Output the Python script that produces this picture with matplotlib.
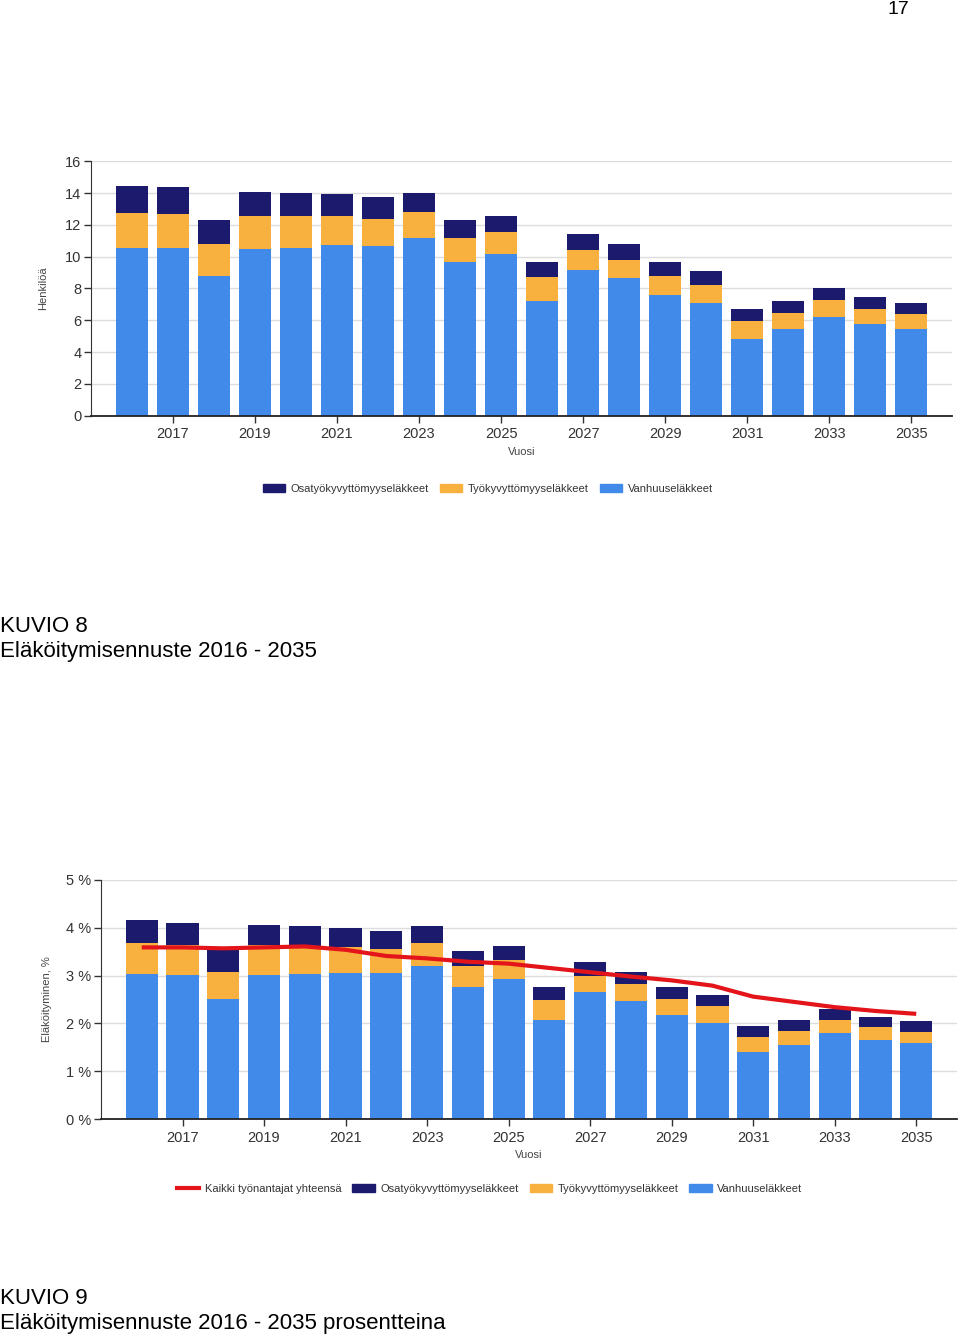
import matplotlib
matplotlib.use("Agg")
import matplotlib.pyplot as plt
from matplotlib.patches import Patch
from matplotlib.lines import Line2D

years = list(range(2016, 2036))
tick_years = list(range(2017, 2036, 2))

# Kuvio 8: henkilöä
vanhuus = [10.57, 10.57, 8.78, 10.50, 10.57, 10.71, 10.65, 11.19, 9.66, 10.17,
           7.23, 9.18, 8.64, 7.59, 7.09, 4.84, 5.47, 6.23, 5.77, 5.47]
tyokyv = [2.16, 2.11, 2.02, 2.04, 1.97, 1.83, 1.74, 1.64, 1.53, 1.38,
          1.47, 1.26, 1.17, 1.19, 1.13, 1.13, 1.01, 1.07, 0.96, 0.92]
osatyokyv = [1.69, 1.68, 1.53, 1.53, 1.44, 1.38, 1.34, 1.15, 1.14, 0.99,
             0.94, 0.99, 0.99, 0.86, 0.90, 0.76, 0.75, 0.71, 0.71, 0.70]

# Kuvio 9: prosentteina
vanhuus_p = [3.04, 3.01, 2.51, 3.01, 3.04, 3.06, 3.06, 3.21, 2.77, 2.93,
             2.08, 2.65, 2.47, 2.17, 2.01, 1.41, 1.55, 1.80, 1.66, 1.58]
tyokyv_p = [0.64, 0.63, 0.57, 0.63, 0.58, 0.53, 0.50, 0.47, 0.44, 0.40,
            0.41, 0.35, 0.36, 0.34, 0.36, 0.30, 0.30, 0.28, 0.26, 0.25]
osatyokyv_p = [0.48, 0.47, 0.47, 0.41, 0.41, 0.41, 0.37, 0.35, 0.31, 0.28,
               0.28, 0.28, 0.25, 0.26, 0.23, 0.24, 0.23, 0.22, 0.22, 0.21]
kaikki_p = [3.59, 3.59, 3.57, 3.59, 3.61, 3.54, 3.41, 3.36, 3.29, 3.25,
            3.16, 3.07, 2.98, 2.90, 2.79, 2.56, 2.45, 2.34, 2.26, 2.20]

c_navy = "#1b1a6d"
c_orange = "#f8b03f"
c_blue = "#418ae9"
c_red = "#e3151b"

plt.rcParams["font.family"] = ["Liberation Sans", "DejaVu Sans"]

fig = plt.figure(figsize=(9.6, 13.4), dpi=100)


def stacked(ax, blue, orange, navy, ymax, step, fmt):
    bot2 = [a + b for a, b in zip(blue, orange)]
    ax.bar(years, blue, width=0.79, color=c_blue, zorder=2)
    ax.bar(years, orange, width=0.79, bottom=blue, color=c_orange, zorder=2)
    ax.bar(years, navy, width=0.79, bottom=bot2, color=c_navy, zorder=2)
    ax.set_xlim(2015, 2036)
    ax.set_ylim(0, ymax)
    yt = [i * step for i in range(int(round(ymax / step)) + 1)]
    ax.set_yticks(yt)
    ax.set_yticklabels([fmt(v) for v in yt])
    ax.set_xticks(tick_years)
    ax.set_xticklabels([str(y) for y in tick_years])
    ax.grid(axis="y", color="#dcdcdc", lw=1, zorder=0)
    for s in ["top", "right"]:
        ax.spines[s].set_visible(False)
    ax.spines["left"].set_color("#333333")
    ax.spines["bottom"].set_color("#222222")
    ax.spines["bottom"].set_linewidth(1.3)
    ax.tick_params(axis="both", direction="out", length=5, width=1,
                   color="#333333", labelsize=10.5, labelcolor="#333333")
    ax.tick_params(axis="y", pad=2)
    ax.set_xlabel("Vuosi", fontsize=8, color="#444444", labelpad=4)


ax1 = fig.add_axes([0.0948, 0.6898, 0.897, 0.1899])
stacked(ax1, vanhuus, tyokyv, osatyokyv, 16, 2, lambda v: f"{v:g}")
ax1.set_ylabel("Henkilöä", fontsize=8, color="#444444", labelpad=12)

h1 = [Patch(color=c_navy), Patch(color=c_orange), Patch(color=c_blue)]
l1 = ["Osatyökyvyttömyyseläkkeet", "Työkyvyttömyyseläkkeet", "Vanhuuseläkkeet"]
fig.legend(h1, l1, loc="center", bbox_to_anchor=(0.508, 1 - 489 / 1340), ncol=3,
           frameon=False, fontsize=8, handlelength=2.0, handleheight=0.8,
           columnspacing=1.0, handletextpad=0.5, labelcolor="#333333")

ax2 = fig.add_axes([0.1052, 0.1649, 0.8917, 0.1784])
stacked(ax2, vanhuus_p, tyokyv_p, osatyokyv_p, 5, 1, lambda v: f"{v:g} %")
ax2.plot(years, kaikki_p, color=c_red, lw=3, zorder=3, solid_capstyle="butt")
ax2.set_ylabel("Eläköityminen, %", fontsize=8, color="#444444", labelpad=10)

h2 = [Line2D([0], [0], color=c_red, lw=3), Patch(color=c_navy),
      Patch(color=c_orange), Patch(color=c_blue)]
l2 = ["Kaikki työnantajat yhteensä"] + l1
fig.legend(h2, l2, loc="center", bbox_to_anchor=(0.51, 1 - 1189 / 1340), ncol=4,
           frameon=False, fontsize=8, handlelength=2.0, handleheight=0.8,
           columnspacing=1.0, handletextpad=0.5, labelcolor="#333333")

fig.text(0.924, 1 - 9 / 1340, "17", fontsize=14, va="center")
fig.text(0.0, 1 - 626 / 1340, "KUVIO 8", fontsize=16, va="center")
fig.text(0.0, 1 - 652 / 1340, "Eläköitymisennuste 2016 - 2035", fontsize=16,
         va="center")
fig.text(0.0, 1 - 1298 / 1340, "KUVIO 9", fontsize=16, va="center")
fig.text(0.0, 1 - 1324 / 1340, "Eläköitymisennuste 2016 - 2035 prosentteina",
         fontsize=16, va="center")

fig.savefig("out.png", dpi=100, facecolor="white")
